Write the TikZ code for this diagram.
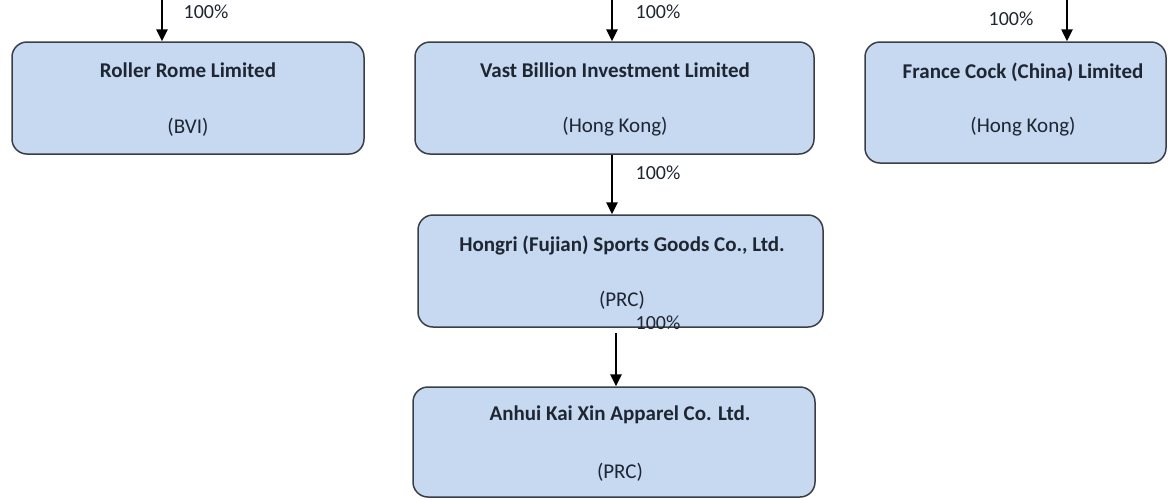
\documentclass[tikz,border=0pt]{standalone}
\usepackage{fontspec}
\setmainfont{Carlito}
\usetikzlibrary{arrows.meta}
\definecolor{boxfill}{HTML}{C6D9F0}
\definecolor{boxline}{HTML}{3A3F47}
\definecolor{txt}{HTML}{1E2533}
\begin{document}
\begin{tikzpicture}[x=1pt,y=-1pt,
  ent/.style={draw=boxline, line width=1.5pt, fill=boxfill, rounded corners=15pt, inner sep=0pt},
  title/.style={font=\fontsize{21}{25}\selectfont\bfseries, text=txt, inner sep=0pt},
  sub/.style={font=\fontsize{21}{25}\selectfont, text=txt, inner sep=0pt},
  pct/.style={font=\fontsize{20}{24}\selectfont, text=txt, inner sep=0pt},
  arr/.style={line width=2.5pt, -{Triangle[length=12pt,width=11pt]}}]
\useasboundingbox (0,0) rectangle (1168,499);
% boxes
\node[ent, minimum width=352pt, minimum height=112pt] (rr) at (188,98) {};
\node[ent, minimum width=399pt, minimum height=112pt] (vb) at (614.5,98) {};
\node[ent, minimum width=301pt, minimum height=121pt] (fc) at (1015.5,102.5) {};
\node[ent, minimum width=405pt, minimum height=112pt] (hr) at (620.5,271) {};
\node[ent, minimum width=402pt, minimum height=110pt] (an) at (614,442) {};
% texts
\node[title] (rrt) at (188,70) {Roller Rome Limited};
\node[sub] (rrs) at (188,127) {(BVI)};
\node[title] (vbt) at (615,70) {Vast Billion Investment Limited};
\node[sub] (vbs) at (615,127) {(Hong Kong)};
\node[title] (fct) at (1023,72) {France Cock (China) Limited};
\node[sub] (fcs) at (1023,127) {(Hong Kong)};
\node[title] (hrt) at (622,245) {Hongri (Fujian) Sports Goods Co., Ltd.};
\node[sub] (hrs) at (622,300) {(PRC)};
\node[title] (ant) at (620,415) {Anhui Kai Xin Apparel Co. Ltd.};
\node[sub] (ans) at (620,472) {(PRC)};
% connectors
\coordinate (rrtop) at (162,0);
\coordinate (vbtop) at (612,0);
\coordinate (fctop) at (1067,0);
\coordinate (c2) at (616,0);
\draw[arr] (rrtop) -- (rrtop |- rr.north);
\draw[arr] (vbtop) -- (vbtop |- vb.north);
\draw[arr] (fctop) -- (fctop |- fc.north);
\draw[arr] (vbtop |- vb.south) -- (vbtop |- hr.north);
\draw[arr] ([yshift=-5pt]c2 |- hr.south) -- (c2 |- an.north);
% percentages
\node[pct] (p1) at (206,12) {100\%};
\node[pct] (p2) at (658,12) {100\%};
\node[pct] (p3) at (1011,19) {100\%};
\node[pct] (p4) at (658,173) {100\%};
\node[pct] (p5) at (658,323) {100\%};
\end{tikzpicture}
\end{document}
